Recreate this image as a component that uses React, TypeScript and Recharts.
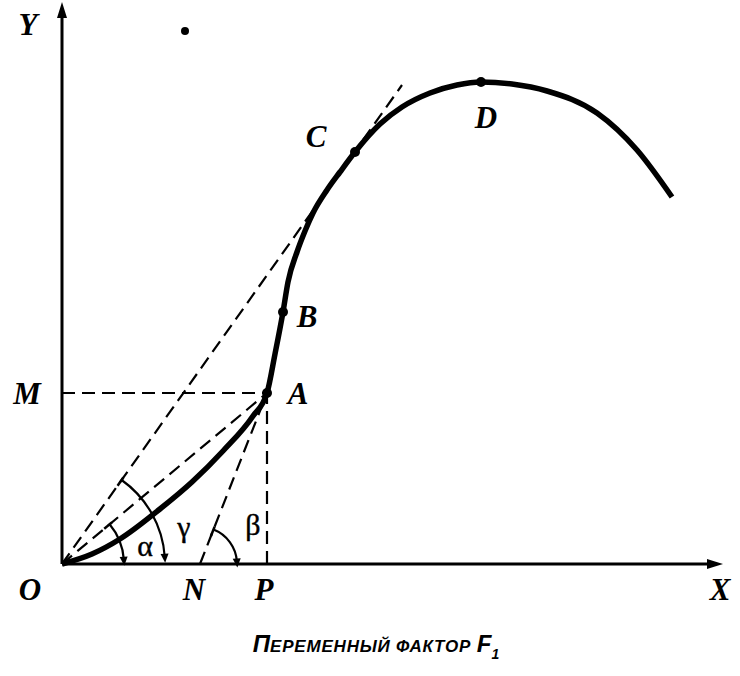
import React from "react";
import {
  ComposedChart,
  Line,
  XAxis,
  YAxis,
  ReferenceLine,
  ReferenceDot,
} from "recharts";

document.body.style.margin = "0";

// кривая зависимости Y от переменного фактора (единицы = пиксели шкалы)
const CURVE_X = [0, 30, 58, 98, 130, 161, 191, 205, 213, 221, 226, 235, 243, 251, 265, 278, 293, 318, 340, 368, 395, 419, 450, 485, 535, 575, 610];
const CURVE_Y = [0, 10, 25, 55, 82, 113, 148, 171, 210, 252, 282, 312, 333, 351, 374, 392, 412, 440, 457, 471, 479, 482, 480, 473, 451, 414, 367];

// характерные точки
const POINT_NAMES = ["A", "B", "C", "D"];
const POINT_X = [205, 221, 293, 419];
const POINT_Y = [171, 252, 412, 482];

// точка N на оси X и конец касательной из начала координат
const N_X = 138;
const TANGENT_END = { x: 340, y: 479 };

const X_MAX = 661;
const Y_MAX = 562;

const curveData = CURVE_X.map((x, i) => ({ x, y: CURVE_Y[i] }));
const A = { x: POINT_X[0], y: POINT_Y[0] };

const serif = "'Liberation Serif', 'DejaVu Serif', serif";
const sans = "'Liberation Sans', Arial, sans-serif";

const letter = (t: string, dx: number, dy: number, size = 31) => (p: any) => (
  <text
    x={p.cx + dx}
    y={p.cy + dy}
    textAnchor="middle"
    dominantBaseline="central"
    fontFamily={serif}
    fontStyle="italic"
    fontWeight="bold"
    fontSize={size}
    fill="#000"
  >
    {t}
  </text>
);

const greek = (t: string, dx: number, dy: number) => (p: any) => (
  <text
    x={p.cx + dx}
    y={p.cy + dy}
    textAnchor="middle"
    dominantBaseline="central"
    fontFamily={serif}
    fontSize={30}
    fill="#000"
    stroke="#000"
    strokeWidth={0.4}
  >
    {t}
  </text>
);

// дуга угла с наконечником у оси
const angleArc = (deg: number, r: number) => (p: any) => {
  const a1 = (deg * Math.PI) / 180;
  const a2 = (4 * Math.PI) / 180;
  const x1 = p.cx + r * Math.cos(a1);
  const y1 = p.cy - r * Math.sin(a1);
  const x2 = p.cx + r * Math.cos(a2);
  const y2 = p.cy - r * Math.sin(a2);
  const dx = Math.sin(a2);
  const dy = Math.cos(a2);
  const tipX = x2 + dx * 6;
  const tipY = y2 + dy * 6;
  const bx = x2 - dx * 3;
  const by = y2 - dy * 3;
  const tx = Math.cos(a1);
  const ty = -Math.sin(a1);
  return (
    <g>
      <path d={`M${x1},${y1} A${r},${r} 0 0 1 ${x2},${y2}`} fill="none" stroke="#000" strokeWidth={2.2} />
      <path d={`M${tipX},${tipY} L${bx - dy * 4},${by + dx * 4} L${bx + dy * 4},${by - dx * 4} Z`} fill="#000" />
      <path d={`M${x1 - tx * 7},${y1 - ty * 7} L${x1 + tx * 3},${y1 + ty * 3}`} stroke="#000" strokeWidth={2.5} />
    </g>
  );
};

const arrowUp = (p: any) => (
  <path d={`M${p.cx},${p.cy} L${p.cx - 5},${p.cy + 16} L${p.cx + 5},${p.cy + 16} Z`} fill="#000" />
);
const arrowRight = (p: any) => (
  <path d={`M${p.cx},${p.cy} L${p.cx - 16},${p.cy - 5} L${p.cx - 16},${p.cy + 5} Z`} fill="#000" />
);

const title = (p: any) => (
  <text
    x={p.cx}
    y={p.cy}
    textAnchor="middle"
    fontFamily={sans}
    fontStyle="italic"
    fontWeight="bold"
    fill="#000"
  >
    <tspan fontSize={24}>П</tspan>
    <tspan fontSize={17} letterSpacing={0.8}>ЕРЕМЕННЫЙ ФАКТОР </tspan>
    <tspan fontSize={24}>F</tspan>
    <tspan fontSize={14} dy={7}>1</tspan>
  </text>
);

const deg = (dx: number, dy: number) => (Math.atan2(dy, dx) * 180) / Math.PI;

export default function App() {
  const dash = "13 7";
  return (
    <ComposedChart
      width={740}
      height={676}
      data={curveData}
      margin={{ top: 2, right: 17, left: 62, bottom: 112 }}
    >
      <XAxis dataKey="x" type="number" domain={[0, X_MAX]} hide />
      <YAxis type="number" domain={[0, Y_MAX]} hide />

      {/* оси */}
      <ReferenceLine segment={[{ x: 0, y: 0 }, { x: 0, y: Y_MAX - 10 }]} stroke="#000" strokeWidth={3} ifOverflow="visible" />
      <ReferenceLine segment={[{ x: 0, y: 0 }, { x: X_MAX - 10, y: 0 }]} stroke="#000" strokeWidth={3} ifOverflow="visible" />
      <ReferenceDot x={0} y={Y_MAX} r={0} ifOverflow="visible" shape={arrowUp} />
      <ReferenceDot x={X_MAX} y={0} r={0} ifOverflow="visible" shape={arrowRight} />

      {/* вспомогательные пунктиры */}
      <ReferenceLine segment={[{ x: 0, y: A.y }, A]} stroke="#000" strokeWidth={2.2} strokeDasharray={dash} ifOverflow="visible" />
      <ReferenceLine segment={[{ x: A.x, y: 0 }, A]} stroke="#000" strokeWidth={2.2} strokeDasharray={dash} ifOverflow="visible" />
      <ReferenceLine segment={[{ x: 0, y: 0 }, A]} stroke="#000" strokeWidth={2.2} strokeDasharray={dash} ifOverflow="visible" />
      <ReferenceLine segment={[{ x: N_X, y: 0 }, A]} stroke="#000" strokeWidth={2.2} strokeDasharray={dash} ifOverflow="visible" />
      <ReferenceLine segment={[{ x: 0, y: 0 }, TANGENT_END]} stroke="#000" strokeWidth={2.2} strokeDasharray={dash} ifOverflow="visible" />

      <Line
        dataKey="y"
        type="monotone"
        stroke="#000"
        strokeWidth={5.5}
        dot={false}
        isAnimationActive={false}
      />

      {POINT_NAMES.map((n, i) => (
        <ReferenceDot key={n} x={POINT_X[i]} y={POINT_Y[i]} r={5} fill="#000" stroke="none" ifOverflow="visible" />
      ))}
      <ReferenceDot x={123} y={533} r={4} fill="#000" stroke="none" ifOverflow="visible" />

      {/* углы */}
      <ReferenceDot x={0} y={0} r={0} ifOverflow="visible" shape={angleArc(deg(A.x, A.y), 62)} />
      <ReferenceDot x={0} y={0} r={0} ifOverflow="visible" shape={angleArc(deg(TANGENT_END.x, TANGENT_END.y), 103)} />
      <ReferenceDot x={N_X} y={0} r={0} ifOverflow="visible" shape={angleArc(deg(A.x - N_X, A.y), 37)} />

      {/* подписи */}
      <ReferenceDot x={0} y={Y_MAX} r={0} ifOverflow="visible" shape={letter("Y", -34, 22)} />
      <ReferenceDot x={0} y={0} r={0} ifOverflow="visible" shape={letter("O", -32, 25)} />
      <ReferenceDot x={N_X} y={0} r={0} ifOverflow="visible" shape={letter("N", -6, 25)} />
      <ReferenceDot x={A.x} y={0} r={0} ifOverflow="visible" shape={letter("P", -3, 25)} />
      <ReferenceDot x={X_MAX} y={0} r={0} ifOverflow="visible" shape={letter("X", -3, 25)} />
      <ReferenceDot x={0} y={A.y} r={0} ifOverflow="visible" shape={letter("M", -35, 0)} />
      <ReferenceDot x={POINT_X[0]} y={POINT_Y[0]} r={0} ifOverflow="visible" shape={letter("A", 31, 0)} />
      <ReferenceDot x={POINT_X[1]} y={POINT_Y[1]} r={0} ifOverflow="visible" shape={letter("B", 24, 4)} />
      <ReferenceDot x={POINT_X[2]} y={POINT_Y[2]} r={0} ifOverflow="visible" shape={letter("C", -39, -16)} />
      <ReferenceDot x={POINT_X[3]} y={POINT_Y[3]} r={0} ifOverflow="visible" shape={letter("D", 5, 35)} />

      <ReferenceDot x={0} y={0} r={0} ifOverflow="visible" shape={greek("α", 83, -19)} />
      <ReferenceDot x={0} y={0} r={0} ifOverflow="visible" shape={greek("γ", 122, -38)} />
      <ReferenceDot x={N_X} y={0} r={0} ifOverflow="visible" shape={greek("β", 53, -40)} />

      <ReferenceDot x={314} y={-88} r={0} ifOverflow="visible" shape={title} />
    </ComposedChart>
  );
}
